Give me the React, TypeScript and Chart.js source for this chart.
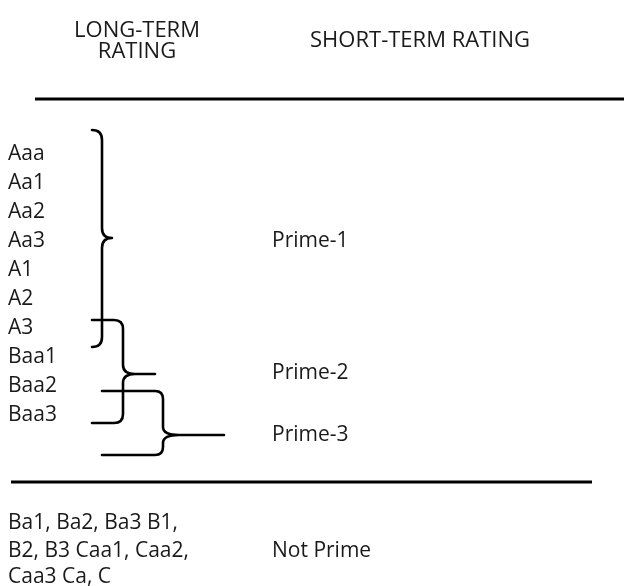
import React, { useEffect, useRef } from "react";
import { Chart, registerables } from "chart.js";

Chart.register(...registerables);

// ---------- data ----------
const longTermRatings = ["Aaa", "Aa1", "Aa2", "Aa3", "A1", "A2", "A3", "Baa1", "Baa2", "Baa3"];
const shortTermRatings = ["Prime-1", "Prime-2", "Prime-3"];
const notPrimeRatings = ["Ba1, Ba2, Ba3 B1,", "B2, B3 Caa1, Caa2,", "Caa3 Ca, C"];
const notPrimeLabel = "Not Prime";
const headerLong = ["LONG-TERM", "RATING"];
const headerShort = "SHORT-TERM RATING";

// ---------- layout (canvas units, px) ----------
const W = 624;
const H = 586;
const FONT = '"Open Sans", "Noto Sans", sans-serif';
const FONT_SIZE = 21;
const HEADER_FONT_SIZE = 22;
const TEXT_COLOR = "#1a1a1a";
const ROW0 = 154.5;
const ROW_STEP = 29;
const LEFT_X = 8;
const PRIME_X = 272;
const primeLabelY = [241.5, 373.5, 435.5];
const headerLongX = 137;
const headerLongY = [31, 52];
const headerShortX = 420;
const headerShortY = 41;
const notPrimeY = [523, 551, 577];
const notPrimeLabelY = 551;
const topRule = { x0: 35, x1: 624, y: 99 };
const bottomRule = { x0: 11, x1: 592, y: 482 };

const braceShapes = [
  { x0: 92, spine: 102, tip: 112, top: 130, mid: 238, bot: 347, r: 10, k: 10 },
  { x0: 92, spine: 123, tip: 155, top: 320, mid: 374, bot: 423, r: 9, k: 12 },
  { x0: 102, spine: 163, tip: 224, top: 391, mid: 435, bot: 455, r: 8, k: 16 },
];

const diagramPlugin = {
  id: "diagram",
  afterDatasetsDraw(chart: any) {
    const { ctx, scales } = chart;
    const X = (v: number) => scales.x.getPixelForValue(v);
    const Y = (v: number) => scales.y.getPixelForValue(v);
    ctx.save();
    ctx.fillStyle = TEXT_COLOR;
    ctx.textBaseline = "middle";

    // headers
    ctx.font = `${HEADER_FONT_SIZE}px ${FONT}`;
    ctx.textAlign = "center";
    headerLong.forEach((t, i) => ctx.fillText(t, X(headerLongX), Y(headerLongY[i])));
    ctx.fillText(headerShort, X(headerShortX), Y(headerShortY));

    // ratings
    ctx.font = `${FONT_SIZE}px ${FONT}`;
    ctx.textAlign = "left";
    longTermRatings.forEach((t, i) => ctx.fillText(t, X(LEFT_X), Y(ROW0 + i * ROW_STEP)));
    shortTermRatings.forEach((t, i) => ctx.fillText(t, X(PRIME_X), Y(primeLabelY[i])));
    notPrimeRatings.forEach((t, i) => ctx.fillText(t, X(LEFT_X), Y(notPrimeY[i])));
    ctx.fillText(notPrimeLabel, X(PRIME_X), Y(notPrimeLabelY));

    // braces
    ctx.strokeStyle = "#000";
    ctx.lineWidth = 2.6;
    ctx.lineCap = "round";
    ctx.lineJoin = "round";
    braceShapes.forEach((b) => {
      ctx.beginPath();
      ctx.moveTo(X(b.x0), Y(b.top));
      ctx.lineTo(X(b.spine - b.r), Y(b.top));
      ctx.quadraticCurveTo(X(b.spine), Y(b.top), X(b.spine), Y(b.top + b.r));
      ctx.lineTo(X(b.spine), Y(b.mid - b.r));
      ctx.quadraticCurveTo(X(b.spine), Y(b.mid), X(b.spine + b.k), Y(b.mid));
      ctx.lineTo(X(b.tip), Y(b.mid));
      ctx.moveTo(X(b.spine + b.k), Y(b.mid));
      ctx.quadraticCurveTo(X(b.spine), Y(b.mid), X(b.spine), Y(b.mid + b.r));
      ctx.lineTo(X(b.spine), Y(b.bot - b.r));
      ctx.quadraticCurveTo(X(b.spine), Y(b.bot), X(b.spine - b.r), Y(b.bot));
      ctx.lineTo(X(b.x0), Y(b.bot));
      ctx.stroke();
    });
    ctx.restore();
  },
};

export default function App() {
  const ref = useRef<HTMLCanvasElement>(null);
  useEffect(() => {
    const canvas = ref.current;
    if (!canvas) return;
    const chart = new Chart(canvas, {
      type: "scatter",
      data: {
        datasets: [
          {
            data: [
              { x: topRule.x0, y: topRule.y },
              { x: topRule.x1, y: topRule.y },
            ],
            showLine: true,
            borderColor: "#000",
            borderWidth: 3,
            pointRadius: 0,
          },
          {
            data: [
              { x: bottomRule.x0, y: bottomRule.y },
              { x: bottomRule.x1, y: bottomRule.y },
            ],
            showLine: true,
            borderColor: "#000",
            borderWidth: 3,
            pointRadius: 0,
          },
        ],
      },
      options: {
        responsive: false,
        animation: false,
        layout: { padding: 0 },
        scales: {
          x: { type: "linear", min: 0, max: W, display: false },
          y: { type: "linear", min: 0, max: H, reverse: true, display: false },
        },
        plugins: { legend: { display: false }, tooltip: { enabled: false } },
      },
      plugins: [diagramPlugin],
    });
    return () => chart.destroy();
  }, []);
  return (
    <div style={{ position: "fixed", left: 0, top: 0, width: W, height: H, background: "#fff" }}>
      <canvas ref={ref} width={W} height={H} style={{ display: "block" }} />
    </div>
  );
}
